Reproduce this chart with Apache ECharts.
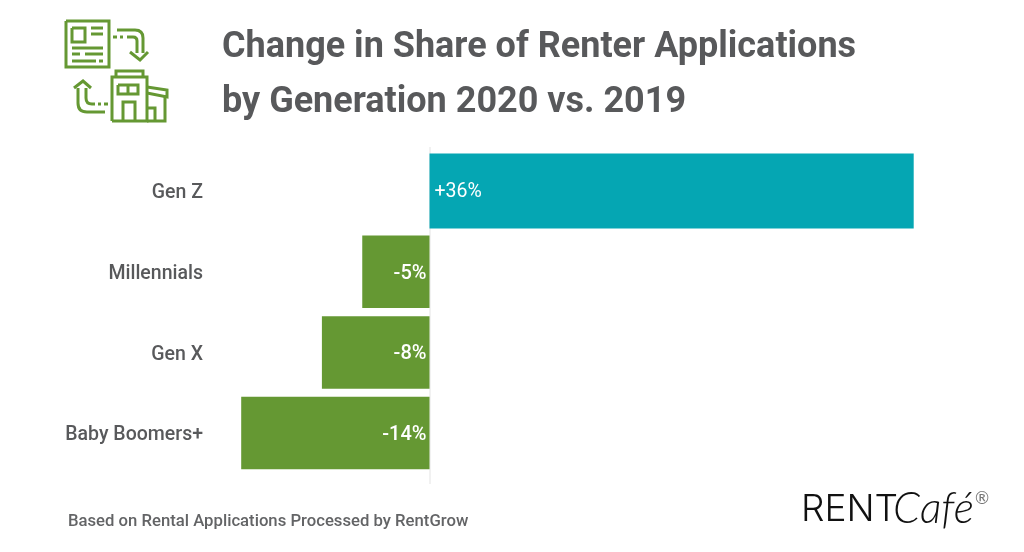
<!DOCTYPE html>
<html><head><meta charset="utf-8">
<style>html,body{margin:0;padding:0;background:#fff}#c{width:1024px;height:552px}</style>
<script src="https://cdn.jsdelivr.net/npm/echarts@6/dist/echarts.min.js"></script></head>
<body><div id="c"></div>
<script>
var categories = ['Gen Z','Millennials','Gen X','Baby Boomers+'];
var genZValues = [36,null,null,null];
var otherValues = [null,-5,-8,-14];
var titleText = 'Change in Share of Renter Applications\nby Generation 2020 vs. 2019';
var footnote = 'Based on Rental Applications Processed by RentGrow';
var GREEN = '#659833', TEAL = '#05a6b3', GREY = '#58595b';
var iconLines = [
 [[66,21],[109,21],[109,67],[66,67],[66,21]],[[72,28],[85,28],[85,42],[72,42],[72,28]],
 [[91,28],[103,28]],[[91,34],[103,34]],[[72,48],[103,48]],[[72,54],[80,54]],[[85,54],[103,54]],[[72,61],[96,61]],[[99,61],[103,61]],
 [[113,37],[117,37]],[[120,37],[123,37]],[[117,30],[135,30]],[[143,38],[143,53]],[[127,37],[133,37]],[[137,41],[137,53]],[[130,52],[140,60],[148,52]],
 [[74,88],[83,81],[91,88]],[[78,88],[78,103]],[[87,112],[105,112]],[[86,88],[86,98]],[[92,104],[95,104]],[[98,104],[101,104]],[[104,104],[108,104]],
 [[112,121],[112,77],[147,77],[147,121],[112,121]],[[116,77],[116,71],[143,71],[143,77]],[[118,85],[138,85],[138,94],[118,94],[118,85]],[[128,85],[128,94]],
 [[123,121],[123,102],[135,102],[135,121]],[[147,87],[167,90],[167,97],[147,93]],[[165,97],[165,121],[147,121]],[[147,108],[155,108],[155,121]]
];
var iconCurves = [[135,30,143,30,143,38],[133,37,137,37,137,41],[78,103,78,112,87,112],[86,98,86,104,92,104]];
var iconGraphics = iconLines.map(function(p){
 return {type:'polyline',shape:{points:p},style:{fill:null,stroke:GREEN,lineWidth:3}};
}).concat(iconCurves.map(function(c){
 return {type:'bezierCurve',shape:{x1:c[0],y1:c[1],cpx1:c[2],cpy1:c[3],x2:c[4],y2:c[5]},style:{fill:null,stroke:GREEN,lineWidth:3}};
}));
var chart = echarts.init(document.getElementById('c'));
chart.setOption({
 animation:false,
 backgroundColor:'#fff',
 textStyle:{fontFamily:'Roboto'},
 grid:{left:214.3,top:150.65,width:753.2,height:322.8},
 xAxis:{type:'value',min:-16,max:40,show:false},
 yAxis:[
  {type:'category',inverse:true,data:categories,
   axisLine:{show:false},axisTick:{show:false},
   axisLabel:{margin:11.3,color:GREY,fontFamily:'Roboto',fontWeight:500,fontSize:19.5,align:'right',verticalAlign:'top',lineHeight:5}},
  {type:'category',inverse:true,data:categories,show:false}
 ],
 series:[
  {type:'bar',yAxisIndex:1,data:genZValues,barWidth:75,itemStyle:{color:TEAL},z:3,
   label:{show:true,position:'insideLeft',distance:5,offset:[0,1],color:'#fff',fontFamily:'Roboto',fontSize:19.5,fontWeight:400,
    formatter:function(p){return '+'+p.value+'%';}}},
  {type:'bar',yAxisIndex:0,data:otherValues,barWidth:72.5,itemStyle:{color:GREEN},z:3,
   label:{show:true,position:'insideRight',distance:3,offset:[0,2],color:'#fff',fontFamily:'Roboto',fontSize:20,fontWeight:500,
    formatter:function(p){return p.value+'%';}}}
 ],
 graphic:[
  {type:'line',z:1,shape:{x1:430,y1:147,x2:430,y2:484},style:{stroke:'#e3e3e3',lineWidth:1}},
  {type:'text',x:222,y:20,style:{text:titleText,fill:GREY,font:'700 36px Roboto',lineHeight:55,textAlign:'left',textVerticalAlign:'top'}},
  {type:'text',x:68,y:522,style:{text:footnote,fill:'#636466',font:'500 16.7px Roboto',textVerticalAlign:'middle'}},
  {type:'text',x:801,y:510,style:{text:'RENT',fill:'#111',font:'300 37px Inter',textVerticalAlign:'middle'}},
  {type:'text',x:893,y:509,style:{text:'Café',fill:'#111',font:'italic 300 43px Lato',textVerticalAlign:'middle'}},
  {type:'text',x:975,y:499,style:{text:'®',fill:'#777',font:'400 17px Lato',textVerticalAlign:'middle'}}
 ].concat(iconGraphics)
});
</script></body></html>
